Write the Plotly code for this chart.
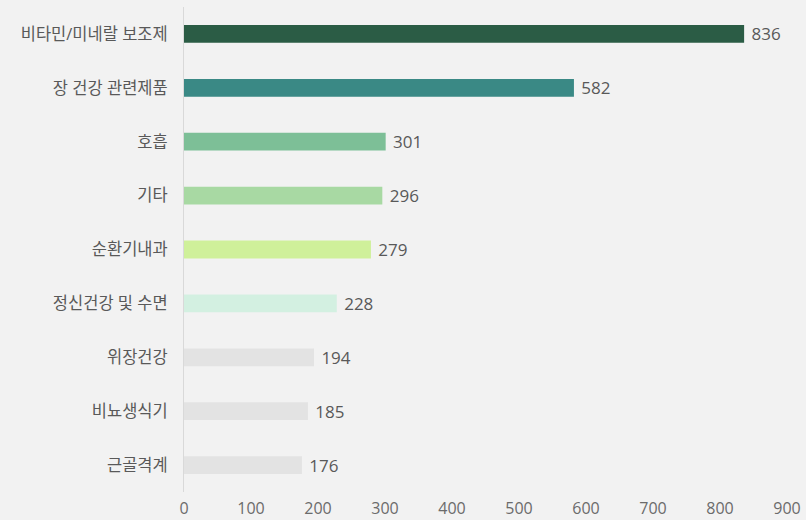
import plotly.graph_objects as go

categories = ["비타민/미네랄 보조제", "장 건강 관련제품", "호흡", "기타", "순환기내과",
              "정신건강 및 수면", "위장건강", "비뇨생식기", "근골격계"]
values = [836, 582, 301, 296, 279, 228, 194, 185, 176]
bar_colors = ["#2b5c45", "#3a8985", "#7dbf97", "#a8d9a3", "#cff09a",
              "#d3f0e1", "#e3e3e3", "#e3e3e3", "#e3e3e3"]
tick_vals = [0, 100, 200, 300, 400, 500, 600, 700, 800, 900]

FONT = "Open Sans, Noto Sans CJK KR, sans-serif"

fig = go.Figure()
fig.add_trace(go.Bar(
    x=values, y=categories, orientation="h",
    marker=dict(color=bar_colors, line_width=0),
    text=[" " + str(v) for v in values], textposition="outside",
    constraintext="none",
    textfont=dict(size=17, color="#595959", family=FONT),
    cliponaxis=False, width=0.33,
))

fig.update_layout(
    width=806, height=520,
    paper_bgcolor="#f2f2f2", plot_bgcolor="#f2f2f2",
    margin=dict(l=184, r=19, t=7, b=28),
    showlegend=False,
    font=dict(family=FONT, color="#595959"),
    xaxis=dict(range=[0, 900], tickvals=tick_vals, showgrid=False, zeroline=False,
               showline=False, tickfont=dict(size=16, color="#6b6b6b"), ticks="",
               ticklabelstandoff=5, automargin=False),
    yaxis=dict(autorange="reversed", showgrid=False, zeroline=False,
               showline=True, linecolor="#d9d9d9", linewidth=1,
               ticks="", ticklabelstandoff=12, automargin=False,
               tickfont=dict(size=16.5, color="#595959")),
)

# drop the default page margin so the figure sits at the window's corner
fig.write_html("out.html", config={"displayModeBar": False},
               post_script="document.body.style.margin='0';")
